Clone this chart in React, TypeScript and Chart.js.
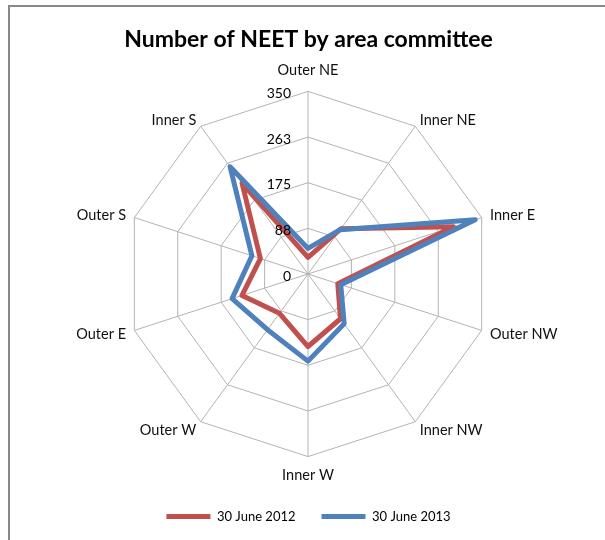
import { useEffect, useRef } from "react";
import { Chart, registerables } from "chart.js";
Chart.register(...registerables);

const categories = ["Outer NE", "Inner NE", "Inner E", "Outer NW", "Inner NW", "Inner W", "Outer W", "Outer E", "Outer S", "Inner S"];
const june2012 = [32, 107, 293, 60, 106, 139, 93, 133, 96, 215];
const june2013 = [49, 105, 337, 66, 118, 167, 132, 153, 113, 254];
const tickValues = [0, 87.5, 175, 262.5, 350];
const tickLabels = ["0", "88", "175", "263", "350"];

const FONT = "Lato, 'Open Sans', sans-serif";

const textPlugin = {
  id: "excelText",
  afterDatasetsDraw(chart: any) {
    const scale = chart.scales.r;
    const ctx = chart.ctx;
    const R = scale.drawingArea;
    ctx.save();
    // tick labels, left of the vertical axis
    ctx.font = `14px ${FONT}`;
    ctx.fillStyle = "#000";
    ctx.textAlign = "right";
    ctx.textBaseline = "middle";
    tickValues.forEach((v, i) => {
      const d = scale.getDistanceFromCenterForValue(v);
      ctx.fillText(tickLabels[i], scale.xCenter - 17, scale.yCenter - d + 2);
    });
    // category labels, Excel-style placement
    ctx.font = `14.5px ${FONT}`;
    ctx.fillStyle = "#111";
    categories.forEach((label, i) => {
      const p = scale.getPointPosition(i, R);
      const s = (p.x - scale.xCenter) / R;
      const c = (scale.yCenter - p.y) / R;
      if (Math.abs(s) < 0.1) {
        ctx.textAlign = "center";
        ctx.fillText(label, p.x, c > 0 ? p.y - 21 : p.y + 19);
      } else {
        const dx = 2 + 7 * s * s;
        ctx.textAlign = s > 0 ? "left" : "right";
        ctx.fillText(label, p.x + (s > 0 ? dx : -dx), p.y - c * 9 + 1);
      }
    });
    ctx.restore();
  },
};

export default function App() {
  const ref = useRef<HTMLCanvasElement>(null);
  useEffect(() => {
    const chart = new Chart(ref.current as HTMLCanvasElement, {
      type: "radar",
      data: {
        labels: categories,
        datasets: [
          {
            label: "30 June 2012",
            data: june2012,
            borderColor: "#C0504D",
            backgroundColor: "#C0504D",
            borderWidth: 5,
            pointRadius: 0,
            fill: false,
            borderJoinStyle: "round",
            order: 1,
          },
          {
            label: "30 June 2013",
            data: june2013,
            borderColor: "#4F81BD",
            backgroundColor: "#4F81BD",
            borderWidth: 5,
            pointRadius: 0,
            fill: false,
            borderJoinStyle: "round",
            order: 0,
          },
        ],
      },
      options: {
        animation: false,
        responsive: false,
        layout: { padding: { top: 6, bottom: 7, left: 12, right: 0 } },
        plugins: {
          title: {
            display: true,
            text: "Number of NEET by area committee",
            font: { family: FONT, size: 23, weight: "bold" },
            color: "#000",
            padding: { top: 20, bottom: 12 },
          },
          legend: {
            position: "bottom",
            labels: {
              boxWidth: 44,
              boxHeight: 5,
              padding: 26,
              color: "#000",
              font: { family: FONT, size: 13 },
              sort: (a: any, b: any) => a.datasetIndex - b.datasetIndex,
              generateLabels: (c: any) =>
                (Chart.defaults.plugins.legend.labels.generateLabels as any)(c).map((l: any) => ({ ...l, lineWidth: 0 })),
            },
          },
          tooltip: { enabled: false },
        },
        scales: {
          r: {
            min: 0,
            max: 350,
            ticks: { stepSize: 87.5, display: false },
            grid: { color: "#b3b3b3", lineWidth: 1 },
            angleLines: { color: "#b3b3b3", lineWidth: 1 },
            pointLabels: { font: { family: FONT, size: 14 }, color: "rgba(0,0,0,0)", padding: 9 },
          },
        },
      },
      plugins: [textPlugin],
    } as any);
    return () => chart.destroy();
  }, []);
  return (
    <div style={{ position: "absolute", left: 0, top: 0, width: 605, height: 540, background: "#fff" }}>
      <canvas ref={ref} width={605} height={540} style={{ position: "absolute", left: 0, top: 0, width: 605, height: 540 }} />
      <div style={{ position: "absolute", left: 8, top: 5, width: 597, height: 535, borderLeft: "2px solid #888", borderTop: "2px solid #888", boxSizing: "border-box", pointerEvents: "none" }} />
    </div>
  );
}
